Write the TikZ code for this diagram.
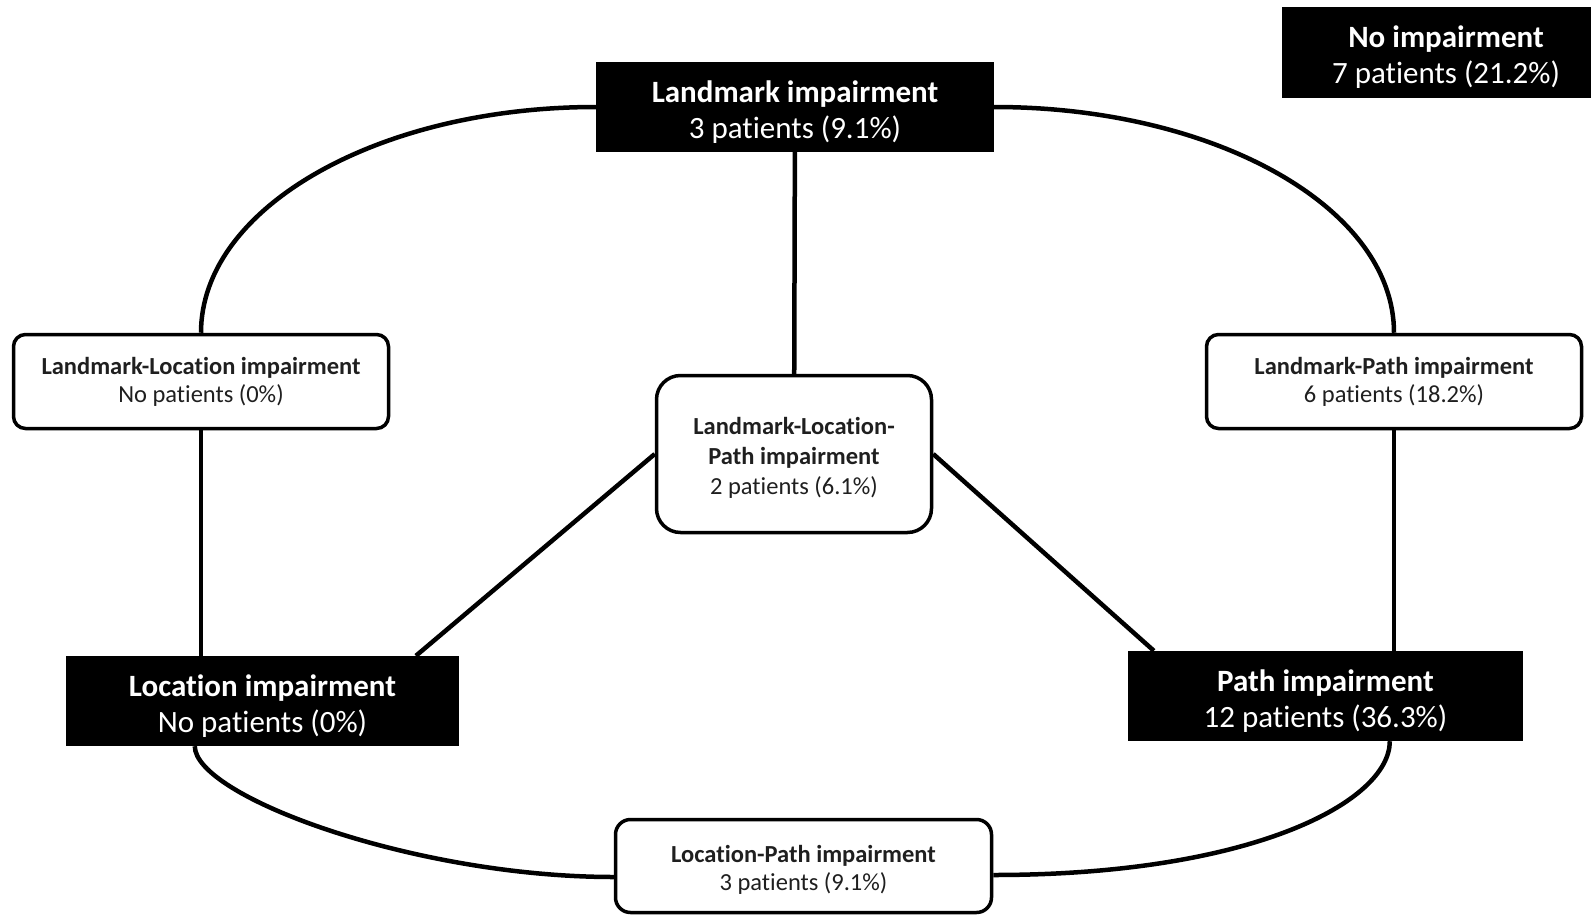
\documentclass[tikz,border=0pt]{standalone}
\usepackage{fontspec}
\setmainfont{Carlito}[Ligatures=NoCommon]
\usetikzlibrary{backgrounds,calc}
\newcommand{\bigstrut}{\rule{0pt}{31pt}}
\newcommand{\smallstrut}{\rule{0pt}{24pt}}
\begin{document}
\begin{tikzpicture}[x=1pt,y=-1pt,
  conn/.style={line width=4.5pt, draw=black},
  blackbox/.style={fill=black, draw=none, text=white, align=center, inner sep=0pt,
    font=\fontsize{31pt}{36pt}\selectfont},
  whitebox/.style={fill=white, draw=black, line width=3.5pt, rounded corners=12pt,
    align=center, inner sep=0pt, text=black!88, font=\fontsize{24.5pt}{28pt}\selectfont}]
\useasboundingbox (0,0) rectangle (1591,916);

\node[blackbox, minimum width=328pt, minimum height=91pt] (noimp) at (1446,52.5)
  {\bigstrut\textbf{No impairment}\\7 patients (21.2\%)};
\node[blackbox, minimum width=398pt, minimum height=90pt] (landmark) at (795,107)
  {\bigstrut\textbf{Landmark impairment}\\3 patients (9.1\%)};
\node[whitebox, minimum width=375pt, minimum height=94pt] (lmloc) at (201,381.5)
  {\textbf{Landmark-Location impairment}\\No patients (0\%)};
\node[whitebox, minimum width=375pt, minimum height=94pt] (lmpath) at (1394,381.5)
  {\textbf{Landmark-Path impairment}\\6 patients (18.2\%)};
\node[whitebox, rounded corners=24pt, minimum width=275pt, minimum height=157pt,
  font=\fontsize{24.5pt}{30pt}\selectfont] (center) at (794,454)
  {\smallstrut\textbf{Landmark-Location-}\\\textbf{Path impairment}\\2 patients (6.1\%)};
\node[blackbox, minimum width=393pt, minimum height=90pt] (loc) at (262.5,701)
  {\bigstrut\textbf{Location impairment}\\No patients (0\%)};
\node[blackbox, minimum width=395pt, minimum height=90pt] (path) at (1325.5,696)
  {\bigstrut\textbf{Path impairment}\\12 patients (36.3\%)};
\node[whitebox, rounded corners=15pt, minimum width=376pt, minimum height=93pt] (locpath) at (803.5,866)
  {\smallstrut\textbf{Location-Path impairment}\\3 patients (9.1\%)};

\coordinate (locin) at ($(loc.north west)!0.89!(loc.north east)$);
\coordinate (pathin) at ($(path.north west)!0.066!(path.north east)$);
\coordinate (locout) at ($(loc.south west)+(129,0)$);
\coordinate (pathout) at ($(path.south west)+(262,0)$);
\coordinate (lpw) at ($(locpath.west)+(0,11)$);
\coordinate (lpe) at ($(locpath.east)+(0,9)$);

\begin{scope}[on background layer]
\fill[white] (0,0) rectangle (1591,916);
\draw[conn] (landmark) -- (center);
\draw[conn] (center.west) -- (locin);
\draw[conn] (center.east) -- (pathin);
\draw[conn] (lmloc.south) -- (lmloc.south |- loc.center);
\draw[conn] (lmpath.south) -- (lmpath.south |- path.center);
\draw[conn] (landmark.west) .. controls +(-218,0) and +(0,-125) .. (lmloc.north);
\draw[conn] (landmark.east) .. controls +(221,0) and +(0,-125) .. (lmpath.north);
\draw[conn] (locout) .. controls +(0,50) and +(-200,0) .. (lpw);
\draw[conn] (pathout) .. controls +(0,60) and +(260,0) .. (lpe);
\end{scope}
\end{tikzpicture}
\end{document}
